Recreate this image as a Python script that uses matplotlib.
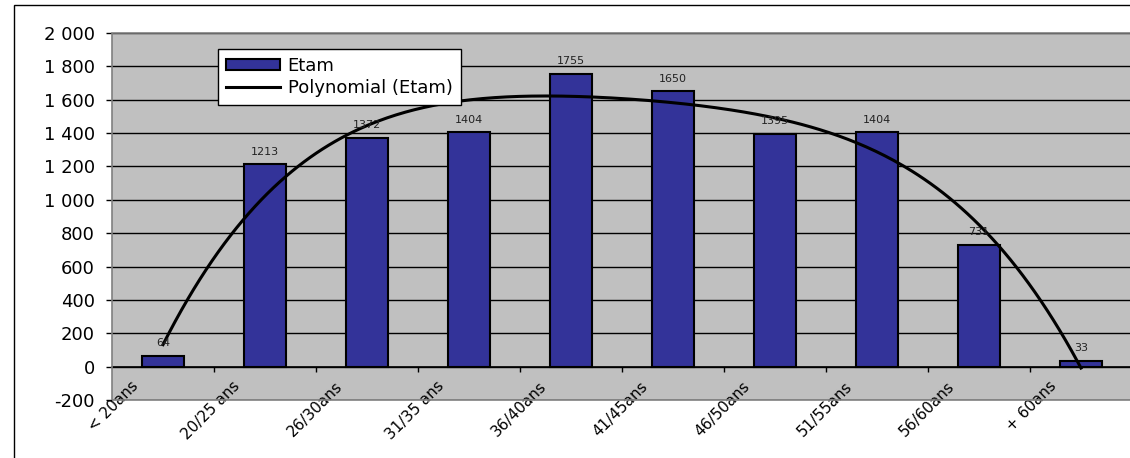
import numpy as np
import matplotlib
matplotlib.use("Agg")
import matplotlib.pyplot as plt
from matplotlib.patches import Rectangle

categories = ["< 20ans", "20/25 ans", "26/30ans", "31/35 ans", "36/40ans",
              "41/45ans", "46/50ans", "51/55ans", "56/60ans", "+ 60ans"]
values = [64, 1213, 1372, 1404, 1755, 1650, 1395, 1404, 731, 33]
y_ticks = [-200, 0, 200, 400, 600, 800, 1000, 1200, 1400, 1600, 1800, 2000]
y_tick_labels = ["-200", "0", "200", "400", "600", "800", "1 000", "1 200",
                 "1 400", "1 600", "1 800", "2 000"]
series_name = "Etam"
trend_name = "Polynomial (Etam)"
trend_order = 4

W, H = 1130, 458
fig = plt.figure(figsize=(W / 100, H / 100), dpi=100)
plt.rcParams['font.family'] = ['DejaVu Sans']

ax = fig.add_axes([112 / W, 1 - 400 / H, 1020 / W, 367 / H])
ax.set_facecolor('#C0C0C0')

x = np.arange(1, len(values) + 1)
bars = ax.bar(x, values, width=0.41, color='#333399', edgecolor='black',
              linewidth=1.5, zorder=3, label=series_name)

coef = np.polyfit(x, values, trend_order)
xf = np.linspace(1, len(values), 300)
line, = ax.plot(xf, np.polyval(coef, xf), color='black', lw=2.2, zorder=4,
                label=trend_name)

for xi, v in zip(x, values):
    ax.annotate(str(v), (xi, v), xytext=(0, 7), textcoords='offset points',
                ha='center', va='baseline', fontsize=8, color='#222222',
                zorder=5)

ax.set_xlim(0.5, len(values) + 0.5)
ax.set_ylim(-200, 2000)
ax.set_yticks(y_ticks)
ax.set_yticklabels(y_tick_labels, fontsize=13)
ax.yaxis.grid(True, color='black', lw=1.0, zorder=1)
ax.set_axisbelow(True)
ax.tick_params(axis='y', direction='out', length=4.3, width=1, pad=8,
               color='black')

ax.set_xticks(np.arange(1.5, len(values), 1.0))
ax.tick_params(axis='x', direction='out', length=3.5, width=1,
               labelbottom=False, color='black')
ax.spines['bottom'].set_position(('data', 0))
ax.spines['bottom'].set_color('black')
ax.spines['bottom'].set_linewidth(1.2)
ax.spines['bottom'].set_zorder(3.5)
for s in ['left', 'top', 'right']:
    ax.spines[s].set_visible(False)

# plot area border (gray)
ax.add_patch(Rectangle((0, 0), 1, 1, transform=ax.transAxes, fill=False,
                       ec='#808080', lw=1.2, zorder=6, clip_on=False))

for xi, lab in zip(x, categories):
    ax.text(xi - 0.32, -72, lab, rotation=45, rotation_mode='anchor',
            ha='right', va='top', fontsize=11, color='black')

leg = ax.legend([bars, line], [series_name, trend_name],
                loc='upper left', bbox_to_anchor=(218 / W, 1 - 49 / H),
                bbox_transform=fig.transFigure, borderaxespad=0,
                fancybox=False, framealpha=1, edgecolor='black',
                fontsize=13, handlelength=3.0, handletextpad=0.4,
                handleheight=0.6, borderpad=0.45, labelspacing=0.2)
leg.get_frame().set_linewidth(1.0)
leg.set_zorder(10)

# outer chart frame
fig.add_artist(Rectangle((14 / W, -0.1), 1.2, (1 - 5 / H) + 0.1,
                         transform=fig.transFigure, fill=False,
                         ec='black', lw=1.0))

fig.savefig('out.png', dpi=100)
